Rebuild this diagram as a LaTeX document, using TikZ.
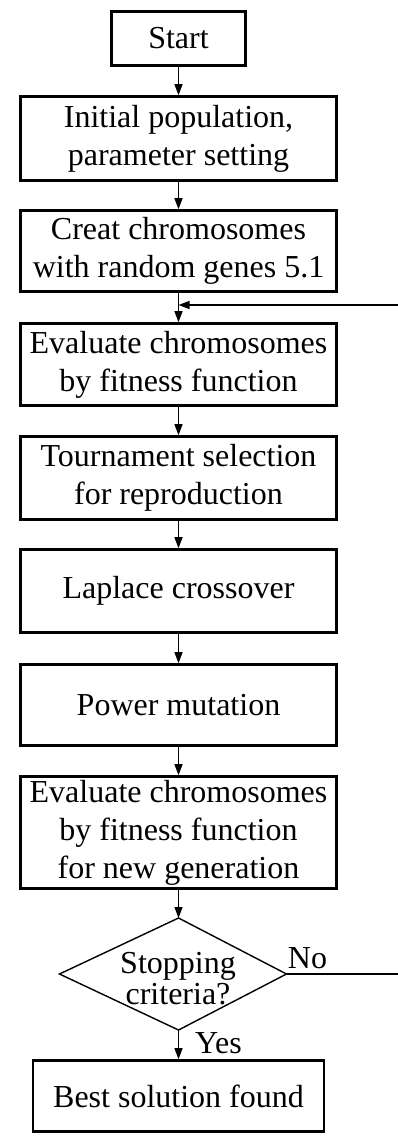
\documentclass[tikz,border=0pt]{standalone}
\usepackage{fontspec}
\setmainfont{Liberation Serif}
\usetikzlibrary{arrows.meta}
\begin{document}
\begin{tikzpicture}[x=1pt,y=1pt,
  font=\fontsize{32}{38}\selectfont,
  box/.style={draw, line width=2.6pt, align=center, inner sep=0pt, minimum width=316pt},
  decision/.style={draw, line width=1.4pt, line join=miter},
  question/.style={align=center, inner sep=0pt, font=\fontsize{32}{31}\selectfont},
  flow/.style={line width=1.2pt, -{Triangle[length=11pt,width=8pt]}},
  loopline/.style={line width=1.4pt},
  tag/.style={inner sep=0pt, anchor=base}]
\useasboundingbox (0,0) rectangle (397,-1140);

% process steps, top to bottom
\node[box, minimum width=134pt, minimum height=54.4pt] (start) at (178.5,-38.5) {Start};
\node[box, minimum height=84pt] (init)  at (178.5,-138.5) {Initial population,\\parameter setting};
\node[box, minimum height=81pt] (creat) at (178.5,-251) {Creat chromosomes\\with random genes 5.1};
\node[box, minimum height=82pt] (eval1) at (178.5,-364.5) {Evaluate chromosomes\\by fitness function};
\node[box, minimum height=83pt] (tourn) at (178.5,-478) {Tournament selection\\for reproduction};
\node[box, minimum height=83pt] (lap)   at (178.5,-591) {Laplace crossover};
\node[box, minimum height=81pt] (power) at (178.5,-705) {Power mutation};
\node[box, minimum height=112pt] (eval2) at (178.5,-832.5) {Evaluate chromosomes\\by fitness function\\for new generation};

% decision diamond (its left half is a little wider than its right half)
\coordinate (dT) at (178.5,-918);
\coordinate (dR) at (286.5,-974);
\coordinate (dB) at (178.5,-1030);
\coordinate (dL) at (59.5,-974);
\draw[decision] (dT) -- (dR) -- (dB) -- (dL) -- cycle;
\node[question] (stop) at (178,-979) {Stopping\\criteria?};

\node[box, minimum width=291pt, minimum height=71pt] (best) at (178.5,-1096) {Best solution found};

% main flow
\draw[flow] (start) -- (init);
\draw[flow] (init) -- (creat);
\draw[flow] (creat) -- (eval1);
\draw[flow] (eval1) -- (tourn);
\draw[flow] (tourn) -- (lap);
\draw[flow] (lap) -- (power);
\draw[flow] (power) -- (eval2);
\draw[flow] (eval2.south) -- (dT);
\draw[flow] (dB) -- (best.north);

% loop back when the stopping test fails
\coordinate (join) at (178.5,-305);
\coordinate (backlow) at (399,-974);
\coordinate (backhigh) at (399,-305);
\draw[loopline, -{Triangle[length=11pt,width=8pt]}] (dR) -- (backlow) -- (backhigh) -- (join);

\node[tag] (no) at (307.5,-968) {No};
\node[tag] (yes) at (218.5,-1053) {Yes};
\end{tikzpicture}
\end{document}
